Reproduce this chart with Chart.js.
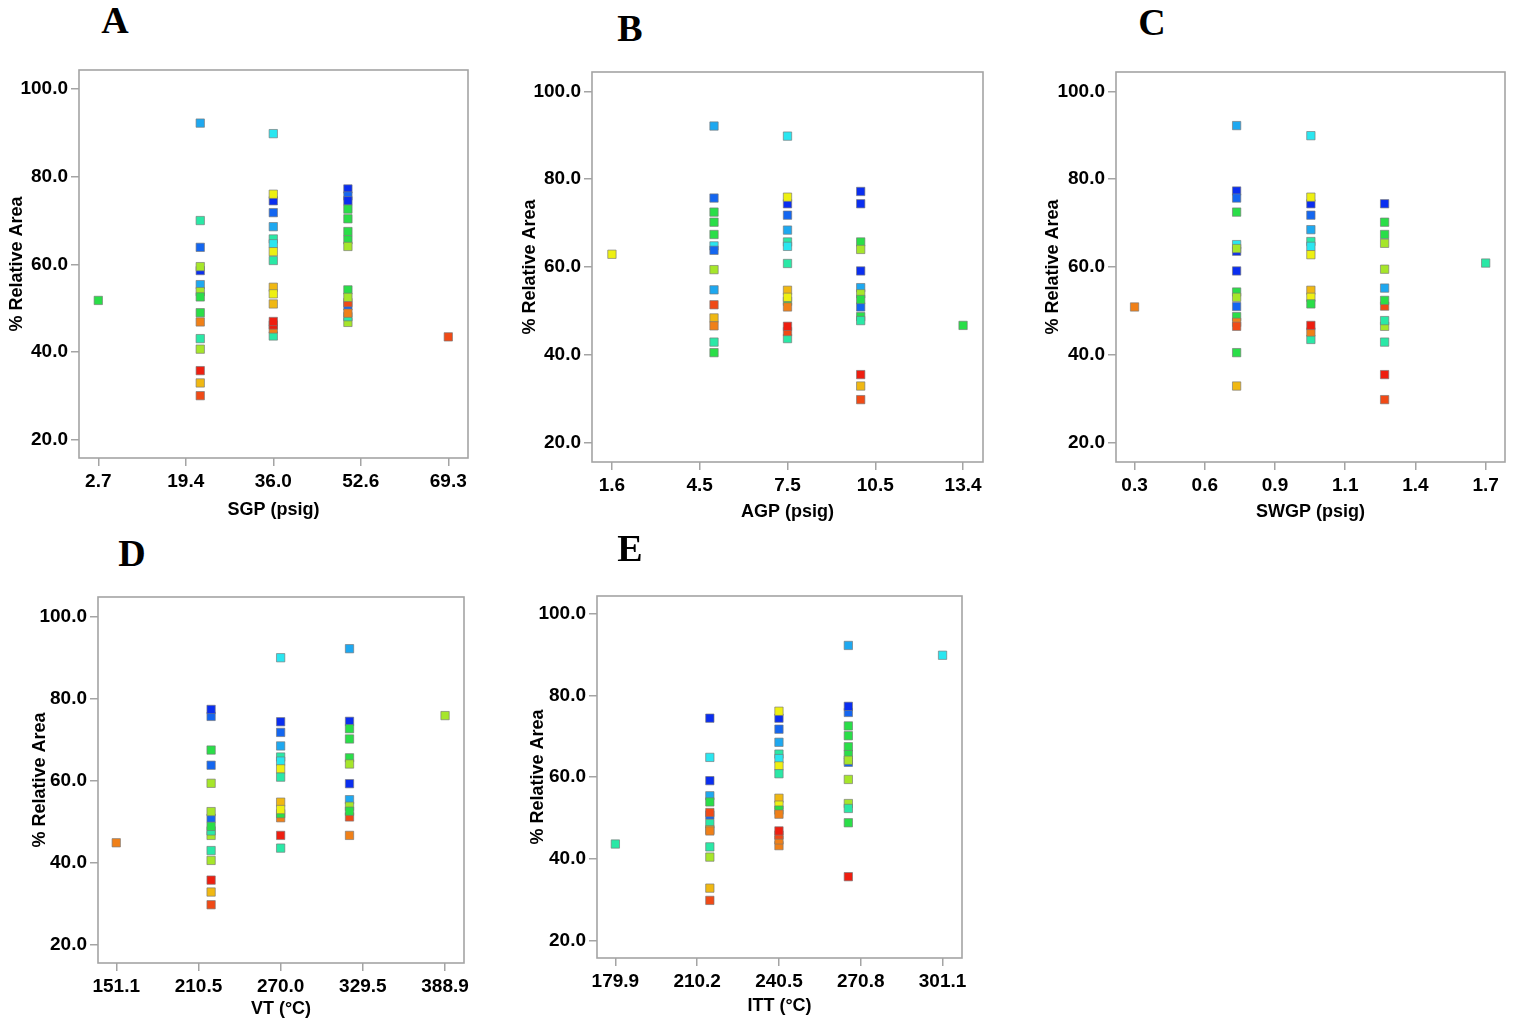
<!DOCTYPE html>
<html>
<head>
<meta charset="utf-8">
<script src="https://cdn.jsdelivr.net/npm/chart.js@4.4.0/dist/chart.umd.min.js"></script>
<style>
  body { margin: 0; width: 1516px; height: 1028px; background: #fff; overflow: hidden; position: relative; }
  .panel { position: absolute; }
  .tag { position: absolute; font-family: "Liberation Serif", "Times New Roman", serif; font-weight: bold;
         font-size: 38px; line-height: 1; transform: translate(-50%, -50%); color: #000; }
</style>
</head>
<body>
<script>
// colour band of each run: 0 = dark blue ... 11 = red (jet scale)

// A - SGP
var aX = [2.7, 22.1, 36.0, 50.2, 69.3];
var aY = [
  [51.8],
  [92.2, 70.0, 63.9, 58.6, 59.5, 55.4, 53.8, 52.6, 49.0, 46.9, 43.1, 40.7, 35.8, 33.0, 30.1],
  [89.8, 74.5, 76.0, 71.8, 68.6, 65.8, 64.7, 62.9, 60.9, 54.8, 53.3, 51.0, 43.7, 45.3, 46.2, 47.0],
  [77.2, 75.6, 74.5, 72.6, 70.4, 67.5, 65.6, 64.1, 54.2, 50.6, 51.3, 52.5, 46.8, 48.1, 48.9],
  [43.5]
];
var aC = [
  [5],
  [2, 4, 1, 0, 6, 2, 6, 5, 5, 9, 4, 6, 11, 8, 10],
  [3, 0, 7, 1, 2, 4, 3, 7, 4, 8, 7, 8, 4, 9, 11, 11],
  [0, 1, 0, 5, 5, 5, 5, 6, 5, 1, 10, 6, 6, 4, 9],
  [10]
];
var aTicks = [2.7, 19.35, 36.0, 52.65, 69.3];
var aTickLabels = ["2.7", "19.4", "36.0", "52.6", "69.3"];

// B - AGP
var bX = [1.6, 5.03, 7.5, 9.96, 13.4];
var bY = [
  [62.9],
  [92.1, 75.7, 72.5, 70.2, 67.4, 64.8, 63.8, 59.4, 54.8, 51.4, 48.4, 46.6, 42.9, 40.5],
  [89.8, 74.4, 75.9, 71.8, 68.4, 65.7, 64.7, 60.8, 54.7, 52.2, 53.1, 50.9, 43.7, 45.3, 46.5],
  [77.2, 74.4, 65.7, 64.0, 59.1, 55.3, 53.9, 50.9, 52.6, 48.7, 47.8, 35.5, 32.9, 29.8],
  [46.7]
];
var bC = [
  [7],
  [2, 1, 5, 5, 5, 3, 1, 6, 2, 10, 8, 9, 4, 5],
  [3, 0, 7, 1, 2, 4, 3, 4, 8, 5, 7, 9, 4, 10, 11],
  [0, 0, 5, 6, 0, 2, 6, 1, 5, 5, 4, 11, 8, 10],
  [5]
];
var bTicks = [1.6, 4.55, 7.5, 10.45, 13.4];
var bTickLabels = ["1.6", "4.5", "7.5", "10.5", "13.4"];

// C - SWGP
var cX = [0.3, 0.707, 1.003, 1.297, 1.7];
var cY = [
  [50.9],
  [92.2, 77.3, 75.7, 72.5, 65.1, 63.6, 64.2, 59.1, 54.3, 53.1, 51.0, 48.7, 47.4, 46.5, 40.5, 32.9],
  [89.9, 74.4, 75.9, 71.8, 68.5, 65.8, 64.7, 62.8, 54.7, 53.1, 51.6, 43.5, 45.2, 46.7],
  [74.4, 70.2, 67.4, 65.4, 59.5, 55.2, 51.1, 52.4, 46.5, 47.8, 42.9, 35.5, 29.8],
  [60.9]
];
var cC = [
  [9],
  [2, 0, 1, 5, 3, 0, 6, 0, 5, 6, 1, 5, 9, 10, 5, 8],
  [3, 0, 7, 1, 2, 4, 3, 7, 8, 7, 5, 4, 9, 11],
  [0, 5, 5, 6, 6, 2, 10, 5, 6, 4, 4, 11, 10],
  [4]
];
var cTicks = [0.3, 0.58, 0.86, 1.14, 1.42, 1.7];
var cTickLabels = ["0.3", "0.6", "0.9", "1.1", "1.4", "1.7"];

// D - VT
var dX = [151.1, 219.7, 270.0, 319.8, 388.9];
var dY = [
  [44.8],
  [75.6, 77.3, 67.4, 63.7, 59.3, 50.8, 52.4, 46.6, 47.7, 48.8, 42.9, 40.5, 35.7, 32.8, 29.7],
  [89.9, 74.3, 71.7, 68.4, 65.7, 64.7, 62.8, 60.8, 54.7, 50.9, 51.9, 52.9, 46.6, 43.5],
  [92.1, 74.4, 72.6, 70.1, 65.5, 64.0, 59.2, 55.3, 53.7, 51.1, 52.5, 46.6],
  [75.8]
];
var dC = [
  [9],
  [1, 0, 5, 1, 6, 1, 6, 6, 4, 5, 4, 6, 11, 8, 10],
  [3, 0, 1, 2, 4, 3, 7, 4, 8, 9, 5, 7, 11, 4],
  [2, 0, 5, 5, 5, 6, 0, 2, 6, 10, 5, 9],
  [6]
];
var dTicks = [151.1, 210.55, 270.0, 329.45, 388.9];
var dTickLabels = ["151.1", "210.5", "270.0", "329.5", "388.9"];

// E - ITT
var eX = [179.9, 214.9, 240.5, 266.2, 301.1];
var eY = [
  [43.6],
  [74.4, 64.8, 59.1, 55.4, 53.9, 50.7, 51.3, 48.6, 47.1, 46.8, 42.9, 40.4, 32.8, 29.8],
  [74.4, 76.1, 71.7, 68.5, 65.6, 64.5, 62.7, 60.8, 54.8, 53.1, 51.9, 50.9, 43.2, 44.6, 45.8, 46.8],
  [92.2, 75.8, 77.3, 72.5, 70.1, 67.4, 65.5, 63.6, 64.1, 59.4, 53.5, 52.3, 48.8, 35.6],
  [89.8]
];
var eC = [
  [4],
  [0, 3, 0, 2, 5, 1, 10, 4, 8, 9, 4, 6, 8, 10],
  [0, 7, 1, 2, 4, 3, 7, 4, 8, 7, 5, 9, 9, 9, 10, 11],
  [2, 1, 0, 5, 5, 5, 5, 1, 6, 6, 6, 4, 5, 11],
  [3]
];
var eTicks = [179.9, 210.2, 240.5, 270.8, 301.1];
var eTickLabels = ["179.9", "210.2", "240.5", "270.8", "301.1"];

var yTicks = [20, 40, 60, 80, 100];

var jet = ['#0a2ef0', '#1466f0', '#1ea8f0', '#2ae6f0', '#2ae8a6', '#2ade48',
           '#a6e62a', '#eef012', '#f0b812', '#f08018', '#f04a16', '#ee1e10'];

var FONT = '"Liberation Sans", Arial, sans-serif';

var panels = [
  {tag: 'A', box: [79, 70, 468, 458],  xs: aX, ys: aY, cs: aC, xt: aTicks, xl: aTickLabels, xr: [-0.97, 73.05], yr: [15.9, 104.3], title: 'SGP (psig)',  at: [115, 20],  yPad: 7,  xPad: 7},
  {tag: 'B', box: [592, 72, 983, 462], xs: bX, ys: bY, cs: bC, xt: bTicks, xl: bTickLabels, xr: [0.93, 14.07],  yr: [15.6, 104.4], title: 'AGP (psig)',  at: [630, 28],  yPad: 7,  xPad: 9},
  {tag: 'C', box: [1116, 72, 1505, 462], xs: cX, ys: cY, cs: cC, xt: cTicks, xl: cTickLabels, xr: [0.226, 1.777], yr: [15.6, 104.4], title: 'SWGP (psig)', at: [1152, 22], yPad: 6,  xPad: 9},
  {tag: 'D', box: [98, 597, 464, 963], xs: dX, ys: dY, cs: dC, xt: dTicks, xl: dTickLabels, xr: [137.9, 402.6], yr: [15.5, 104.7], title: 'VT (°C)',   at: [132, 553], yPad: 11, xPad: 13},
  {tag: 'E', box: [597, 596, 962, 958], xs: eX, ys: eY, cs: eC, xt: eTicks, xl: eTickLabels, xr: [173.1, 308.3], yr: [15.7, 104.3], title: 'ITT (°C)',  at: [630, 548], yPad: 10, xPad: 11}
];

var framePlugin = {
  id: 'frame',
  beforeDatasetsDraw: function (chart) {
    var a = chart.chartArea, ctx = chart.ctx;
    ctx.save();
    ctx.strokeStyle = '#a4a4a4';
    ctx.lineWidth = 1.6;
    ctx.strokeRect(a.left, a.top, a.right - a.left, a.bottom - a.top);
    ctx.restore();
  }
};

function noPad(s) {
  s.paddingTop = 0; s.paddingBottom = 0; s.paddingLeft = 0; s.paddingRight = 0;
}

panels.forEach(function (p) {
  var L = p.box[0], T = p.box[1], R = p.box[2], B = p.box[3];
  var div = document.createElement('div');
  div.className = 'panel';
  div.style.left = (L - 80) + 'px';
  div.style.top = (T - 10) + 'px';
  var cv = document.createElement('canvas');
  cv.width = (R - L) + 92;
  cv.height = (B - T) + 80;
  div.appendChild(cv);
  document.body.appendChild(div);

  var tag = document.createElement('div');
  tag.className = 'tag';
  tag.textContent = p.tag;
  tag.style.left = p.at[0] + 'px';
  tag.style.top = p.at[1] + 'px';
  document.body.appendChild(tag);

  var pts = [], cols = [];
  p.xs.forEach(function (x, i) {
    p.ys[i].forEach(function (y, j) {
      pts.push({x: x, y: y});
      cols.push(jet[p.cs[i][j]]);
    });
  });

  new Chart(cv, {
    type: 'scatter',
    data: {
      datasets: [{
        data: pts,
        backgroundColor: cols,
        borderColor: 'rgba(120,120,120,0.65)',
        borderWidth: 1,
        pointStyle: 'rect',
        pointRadius: 5.9
      }]
    },
    options: {
      responsive: false,
      animation: false,
      layout: {padding: {left: 0, top: 10, right: 12, bottom: 0}},
      plugins: {legend: {display: false}, tooltip: {enabled: false}},
      scales: {
        x: {
          type: 'linear',
          min: p.xr[0], max: p.xr[1],
          afterFit: function (s) { s.height = 70; noPad(s); },
          afterBuildTicks: function (s) { s.ticks = p.xt.map(function (v) { return {value: v}; }); },
          ticks: {
            autoSkip: false, maxRotation: 0, padding: 4, color: '#000',
            font: {size: 19, family: FONT, weight: 'bold'},
            callback: function (v, i) { return p.xl[i]; }
          },
          grid: {drawOnChartArea: false, drawTicks: true, tickLength: 8, color: '#a4a4a4', lineWidth: 1.5},
          border: {display: false},
          title: {display: true, text: p.title, color: '#000', font: {size: 18, family: FONT, weight: 'bold'}, padding: {top: 0, bottom: p.xPad}}
        },
        y: {
          min: p.yr[0], max: p.yr[1],
          afterFit: function (s) { s.width = 80; noPad(s); },
          afterBuildTicks: function (s) { s.ticks = yTicks.map(function (v) { return {value: v}; }); },
          ticks: {
            padding: 3, color: '#000',
            font: {size: 19, family: FONT, weight: 'bold'},
            callback: function (v) { return v.toFixed(1); }
          },
          grid: {drawOnChartArea: false, drawTicks: true, tickLength: 8, color: '#a4a4a4', lineWidth: 1.5},
          border: {display: false},
          title: {display: true, text: '% Relative Area', color: '#000', font: {size: 18, family: FONT, weight: 'bold'}, padding: {top: p.yPad, bottom: 0}}
        }
      }
    },
    plugins: [framePlugin]
  });
});
</script>
</body>
</html>
